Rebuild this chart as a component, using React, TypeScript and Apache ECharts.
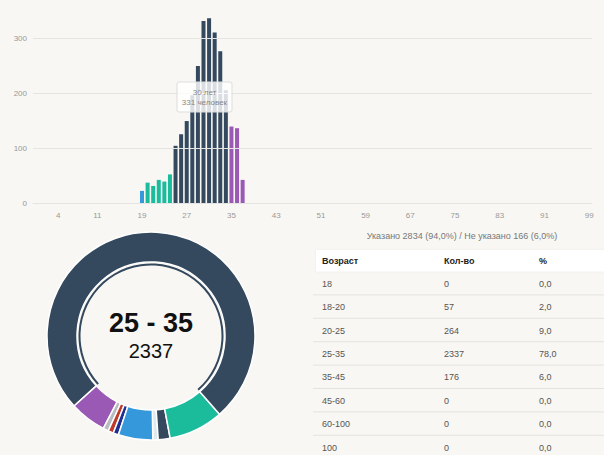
import React, { useEffect, useRef } from "react";
import * as echarts from "echarts";

// Histogram: ages with non-zero counts
const histAges = [19, 20, 21, 22, 23, 24, 25, 26, 27, 28, 29, 30, 31, 32, 33, 34, 35, 36, 37];
const histCounts = [22, 37, 31, 42, 39, 52, 104, 125, 149, 196, 249, 331, 336, 310, 276, 205, 139, 136, 42];
const ageMin = 0;
const ageMax = 99;
const xTickLabels = ["4", "11", "19", "27", "35", "43", "51", "59", "67", "75", "83", "91", "99"];
const yTicks = [0, 100, 200, 300];
const tooltipAge = 30;

// Table
const tableHeader = ["Возраст", "Кол-во", "%"];
const groupNames = ["18", "18-20", "20-25", "25-35", "35-45", "45-60", "60-100", "100"];
const groupCounts = [0, 57, 264, 2337, 176, 0, 0, 0];
const groupPercents = ["0,0", "2,0", "9,0", "78,0", "6,0", "0,0", "0,0", "0,0"];
const specifiedCount = 2834;
const specifiedPct = "94,0";
const unspecifiedCount = 166;
const unspecifiedPct = "6,0";
const unspecifiedName = "Не указано";
const selectedGroup = "25-35";

const FONT = "'Liberation Sans', Arial, Helvetica, sans-serif";
const BG = "#f8f7f3";
const DARK = "#34495e";
const GRID = "#e4e4e2";

function barColor(age: number) {
  if (age < 20) return "#3498db";
  if (age < 25) return "#1abc9c";
  if (age < 35) return DARK;
  return "#9b59b6";
}

const donutColors: Record<string, string> = {
  "18": "#dfe9f0",
  "18-20": DARK,
  "20-25": "#1abc9c",
  "25-35": DARK,
  "35-45": "#9b59b6",
  "45-60": "#b7bcc0",
  "60-100": "#c0392b",
  "100": "#1f2f8f",
  [unspecifiedName]: "#3498db",
};

export default function App() {
  const ref = useRef<HTMLDivElement>(null);
  useEffect(() => {
    if (!ref.current) return;
    const chart = echarts.init(ref.current, undefined, { renderer: "svg" });

    const categories: string[] = [];
    for (let a = ageMin; a <= ageMax; a++) categories.push(String(a));
    const barData = categories.map((c) => {
      const age = Number(c);
      const i = histAges.indexOf(age);
      return { value: i >= 0 ? histCounts[i] : 0, itemStyle: { color: barColor(age) } };
    });

    const donutNames = [...groupNames, unspecifiedName];
    const donutValues = [...groupCounts, unspecifiedCount];
    const donutData = donutNames.map((n, i) => ({
      name: n,
      value: donutValues[i],
      itemStyle: { color: donutColors[n] },
    }));
    const ringData = donutNames.map((n, i) => ({
      name: n,
      value: donutValues[i],
      itemStyle: { color: n === selectedGroup ? DARK : "rgba(0,0,0,0)" },
    }));

    const pieCenter = [151, 336];
    const pieCommon = {
      type: "pie" as const,
      center: pieCenter,
      startAngle: 271,
      clockwise: false,
      minAngle: 3,
      silent: true,
      label: { show: false },
      labelLine: { show: false },
      emphasis: { disabled: true },
    };

    // Table graphics
    const tableX = 316;
    const colX = [322, 444, 539];
    const headerY = 250;
    const headerH = 21.5;
    const rowH = 23.4;
    const tableChildren: any[] = [];
    tableChildren.push({
      type: "rect",
      shape: { x: tableX, y: headerY, width: 604 - tableX, height: headerH },
      style: { fill: "#ffffff", shadowBlur: 2, shadowColor: "rgba(0,0,0,0.06)" },
    });
    tableHeader.forEach((h, j) => {
      tableChildren.push({
        type: "text",
        x: colX[j],
        y: headerY + headerH / 2,
        style: { text: h, fill: "#222", font: `bold 9px ${FONT}`, verticalAlign: "middle" },
      });
    });
    groupNames.forEach((g, i) => {
      const yTop = headerY + headerH + i * rowH;
      const cy = yTop + rowH / 2 + 0.5;
      const cells = [g, String(groupCounts[i]), groupPercents[i]];
      cells.forEach((t, j) => {
        tableChildren.push({
          type: "text",
          x: colX[j],
          y: cy,
          style: { text: t, fill: "#555", font: `9px ${FONT}`, verticalAlign: "middle" },
        });
      });
      if (i < groupNames.length - 1) {
        tableChildren.push({
          type: "line",
          shape: { x1: 313, y1: yTop + rowH, x2: 604, y2: yTop + rowH },
          style: { stroke: "#e4e3e0", lineWidth: 1 },
        });
      }
    });

    const baseGraphic: any[] = [
      ...tableChildren,
      {
        type: "text",
        x: 462,
        y: 236,
        style: {
          text: `Указано ${specifiedCount} (${specifiedPct}%) / ${unspecifiedName} ${unspecifiedCount} (${unspecifiedPct}%)`,
          fill: "#777",
          font: `9px ${FONT}`,
          align: "center",
          verticalAlign: "middle",
        },
      },
      {
        type: "text",
        x: pieCenter[0],
        y: 323,
        style: {
          text: selectedGroup.replace("-", " - "),
          fill: "#111",
          font: `bold 27px ${FONT}`,
          align: "center",
          verticalAlign: "middle",
        },
      },
      {
        type: "text",
        x: pieCenter[0],
        y: 351,
        style: {
          text: String(groupCounts[groupNames.indexOf(selectedGroup)]),
          fill: "#111",
          font: `20px ${FONT}`,
          align: "center",
          verticalAlign: "middle",
        },
      },
    ];

    chart.setOption({
      animation: false,
      backgroundColor: BG,
      grid: { left: 33, right: 12, top: 10.5, bottom: 252, containLabel: false },
      xAxis: {
        type: "category",
        data: categories,
        boundaryGap: true,
        axisLine: { show: true, lineStyle: { color: GRID } },
        axisTick: { show: false },
        axisLabel: {
          interval: (_i: number, v: string) => xTickLabels.includes(v),
          color: "#999",
          fontSize: 8,
          fontFamily: FONT,
          margin: 8,
        },
      },
      yAxis: {
        type: "value",
        min: 0,
        max: 350,
        interval: 100,
        axisLine: { show: false },
        axisTick: { show: false },
        axisLabel: {
          color: "#999",
          fontSize: 8,
          fontFamily: FONT,
          margin: 6,
          showMaxLabel: false,
          formatter: (v: number) => (yTicks.includes(v) ? String(v) : ""),
        },
        splitLine: { show: false },
      },
      series: [
        {
          type: "line",
          data: [],
          z: 0,
          silent: true,
          markLine: {
            silent: true,
            symbol: "none",
            label: { show: false },
            lineStyle: { color: GRID, type: "solid", width: 1 },
            emphasis: { disabled: true },
            data: yTicks.filter((t) => t > 0).map((t) => ({ yAxis: t })),
          },
        },
        {
          type: "bar",
          data: barData,
          barWidth: 4,
          silent: true,
          z: 2,
        },
        {
          ...pieCommon,
          radius: [74, 104],
          itemStyle: { borderColor: "#ffffff", borderWidth: 1.5 },
          data: donutData,
        },
        {
          ...pieCommon,
          radius: [70.5, 72.5],
          data: ringData,
        },
      ],
      graphic: baseGraphic,
    });

    // Static tooltip over the bar for tooltipAge
    const idx = categories.indexOf(String(tooltipAge));
    const val = histCounts[histAges.indexOf(tooltipAge)];
    const p = chart.convertToPixel({ seriesIndex: 1 }, [idx, val]) as number[];
    const tipW = 55;
    const tipCx = p[0] + 1;
    chart.setOption({
      graphic: [
        ...baseGraphic,
        {
          type: "group",
          z: 100,
          children: [
            {
              type: "rect",
              z: 100,
              shape: { x: tipCx - tipW / 2, y: 82, width: tipW, height: 30, r: 2 },
              style: { fill: "rgba(255,255,255,0.82)", stroke: "#dddddd", lineWidth: 1 },
            },
            {
              type: "text",
              z: 101,
              x: tipCx,
              y: 92,
              style: { text: `${tooltipAge} лет`, fill: "#888", font: `8px ${FONT}`, align: "center", verticalAlign: "middle" },
            },
            {
              type: "text",
              z: 101,
              x: tipCx,
              y: 102.5,
              style: { text: `${val} человек`, fill: "#888", font: `8px ${FONT}`, align: "center", verticalAlign: "middle" },
            },
          ],
        },
      ],
    });

    return () => chart.dispose();
  }, []);

  return (
    <div style={{ position: "fixed", left: 0, top: 0, width: 604, height: 455, background: BG }}>
      <div ref={ref} style={{ width: 604, height: 455 }} />
    </div>
  );
}
